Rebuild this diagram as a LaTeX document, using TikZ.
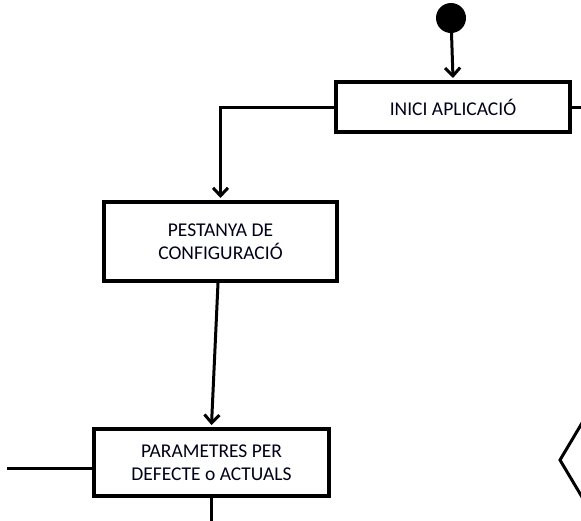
\documentclass[tikz,border=0pt]{standalone}
\usepackage{fontspec}
\setmainfont{Carlito}
\usetikzlibrary{arrows.meta}
\begin{document}
\begin{tikzpicture}[x=1pt,y=-1pt,
  box/.style={draw=black, line width=4pt, fill=white, align=center, inner sep=0pt,
    font=\fontsize{19.5}{23.5}\selectfont, text=black!90!blue},
  conn/.style={draw=black, line width=3pt},
  arr/.style={conn, -{Straight Barb[length=8pt,width=15pt]}}]
\useasboundingbox (0,0) rectangle (581,520);
\node[circle, fill=black, minimum size=30pt, inner sep=0pt] (start) at (451,18) {};
\node[box, minimum width=234pt, minimum height=50pt] (inici) at (453,107) {INICI APLICACIÓ};
\node[box, minimum width=233pt, minimum height=79pt] (pest) at (220.5,241.5) {PESTANYA DE\\CONFIGURACIÓ};
\node[box, minimum width=235pt, minimum height=67pt] (param) at (211.5,462.5) {PARAMETRES PER\\DEFECTE o ACTUALS};
\coordinate (rightend) at (585,107);
\coordinate (leftend) at (7,468);
\coordinate (bottomend) at (211.5,525);
\draw[arr] (start) -- ([yshift=2pt]inici.north);
\draw[arr] (inici.west) -| ([yshift=2pt]pest.north);
\draw[conn] (inici.east) -- (rightend);
\draw[arr] ([xshift=-2.5pt]pest.south) -- ([yshift=2pt]param.north);
\draw[conn] (leftend) -- (leftend -| param.west);
\draw[conn] (param.south) -- (bottomend);
\draw[line width=3pt] (585,418) -- (560,460) -- (585,502);
\end{tikzpicture}
\end{document}
